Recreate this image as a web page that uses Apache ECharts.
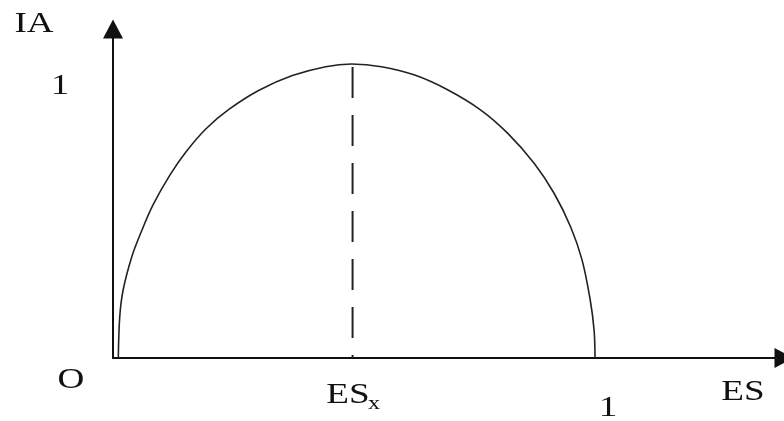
<!DOCTYPE html>
<html>
<head>
<meta charset="utf-8">
<title>IA - ES</title>
<script src="https://cdn.jsdelivr.net/npm/echarts@6/dist/echarts.min.js"></script>
<style>
  html, body { margin: 0; padding: 0; background: #fff; }
  #chart { width: 784px; height: 421px; }
</style>
</head>
<body>
<div id="chart"></div>
<script>
// curve: ES on x, IA on y
const curveES = [0.011, 0.014, 0.021, 0.039, 0.058, 0.083, 0.118, 0.152, 0.193, 0.241, 0.303, 0.372, 0.441, 0.495,
  0.557, 0.626, 0.695, 0.763, 0.819, 0.874, 0.915, 0.949, 0.973, 0.990, 0.998, 1.0];
const curveIA = [0, 0.152, 0.251, 0.374, 0.463, 0.565, 0.675, 0.762, 0.846, 0.918, 0.988, 1.042, 1.075, 1.085,
  1.075, 1.044, 0.989, 0.915, 0.829, 0.718, 0.608, 0.485, 0.362, 0.214, 0.103, 0];
// dashed line at ES_x (from the top of the curve down to the axis)
const dashES = [0.497, 0.497];
const dashIA = [1.074, 0];
// texts
const yName = 'IA';
const xName = 'ES';
const originLabel = 'O';
const yTick = '1';
const xTick = '1';
const esXLabel = ['ES', 'x'];

const font = "'Liberation Serif', 'Times New Roman', serif";

// 文字 (the source picture is stretched sideways, so scaleX)
function label(text, x, y, size, align) {
  return {
    type: 'text',
    x: x,
    y: y,
    scaleX: 1.28,
    style: {
      text: text,
      x: 0,
      y: 0,
      fill: '#111',
      font: size + 'px ' + font,
      textAlign: align || 'center',
      textVerticalAlign: 'middle',
    },
  };
}

const axisLine = {
  show: true,
  onZero: false,
  symbol: ['none', 'triangle'],
  symbolSize: [20, 19],
  lineStyle: { color: '#111', width: 2 },
};

const myChart = echarts.init(document.getElementById('chart'));
myChart.setOption({
  backgroundColor: '#fff',
  animation: false,
  grid: {
    left: 113,
    right: -4,
    top: 29,
    bottom: 63,
  },
  xAxis: {
    type: 'value',
    min: 0,
    max: 1.392,
    splitLine: { show: false },
    axisTick: { show: false },
    axisLabel: { show: false },
    axisLine: axisLine,
  },
  yAxis: {
    type: 'value',
    min: 0,
    max: 1.214,
    splitLine: { show: false },
    axisTick: { show: false },
    axisLabel: { show: false },
    axisLine: axisLine,
  },
  series: [{
    type: 'line',
    data: curveES.map((x, i) => [x, curveIA[i]]),
    smooth: 0.35,
    showSymbol: false,
    lineStyle: { color: '#222', width: 1.6 },
  }, {
    type: 'line',
    data: dashES.map((x, i) => [x, dashIA[i]]),
    showSymbol: false,
    lineStyle: { color: '#222', width: 2, type: [31, 17] },
  }],
  graphic: [
    label(yName, 34, 24, 29),
    label(yTick, 60, 86, 29),
    label(originLabel, 71, 380, 29),
    label(esXLabel[0], 348, 395, 29),
    label(esXLabel[1], 368, 404, 19, 'left'),
    label(xTick, 608, 408, 29),
    label(xName, 743, 392, 29),
  ],
});
</script>
</body>
</html>
